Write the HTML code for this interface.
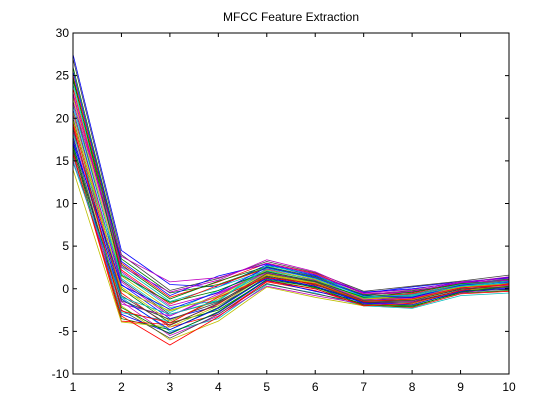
<!DOCTYPE html>
<html><head><meta charset="utf-8"><style>
body{margin:0;background:#fff;}
svg{display:block;font-family:"Liberation Sans",Arial,sans-serif;}
</style></head><body>
<svg id="chart" width="560" height="420" viewBox="0 0 560 420" xmlns="http://www.w3.org/2000/svg">
<rect width="560" height="420" fill="#fff"/>
<text x="291" y="21" text-anchor="middle" font-size="12">MFCC Feature Extraction</text>
<g id="lines"></g>
<rect x="73" y="33" width="436" height="341" fill="none" stroke="#000" stroke-width="1"/>
<g id="ticks"></g>
</svg>
<script>
const categories=[1,2,3,4,5,6,7,8,9,10];
const xTicks=[1,2,3,4,5,6,7,8,9,10];
const yTicks=[-10,-5,0,5,10,15,20,25,30];
const seriesColors=["#0000ff","#008000","#ff0000","#00bfbf","#bf00bf","#bfbf00","#404040"];
const seriesValues=[
[27.5,4.5,0.5,0.2,2.8,1.5,-0.5,0.2,0.8,1.3],
[26,3.5,-0.5,0.5,2.5,1.2,-0.8,-0.3,0.5,1.0],
[25,3,-1,0.8,3.0,1.8,-0.6,-0.5,0.6,0.8],
[24,2.5,-1.5,0.2,2.2,1.0,-1.0,-0.8,0.3,0.5],
[23,2,-2,-0.5,2.0,0.8,-1.2,-1.0,0.2,0.6],
[22.5,1.5,-2.5,-1.0,1.8,0.5,-1.4,-1.2,0.0,0.3],
[22,1,-3,-1.5,1.5,0.3,-1.5,-1.5,-0.2,0.2],
[21,0.5,-3.5,-2.0,1.2,0.2,-1.6,-1.8,-0.4,0.0],
[20,0,-4,-2.5,1.0,0.0,-1.8,-2.0,-0.5,-0.2],
[19.5,-0.5,-4.5,-3.0,0.8,-0.2,-1.9,-2.2,-0.6,-0.3],
[19,-1,-5,-3.5,0.5,-0.5,-2.0,-2.3,-0.8,-0.5],
[18.5,-1.5,-5.5,-3.2,0.3,-0.8,-1.8,-1.5,-0.5,0.2],
[18,-2,-6,-3.8,0.2,-1.0,-2.0,-1.8,-0.3,0.4],
[17.5,-2.5,-5.8,-3.0,0.6,-0.6,-1.7,-1.3,-0.1,0.5],
[17,-3,-5.2,-2.8,1.0,-0.3,-1.5,-1.0,0.1,0.7],
[16.5,-3.5,-4.8,-2.2,1.4,0.1,-1.3,-0.9,0.3,0.9],
[16,-3.8,-4.2,-1.8,1.7,0.4,-1.1,-0.7,0.4,1.1],
[15.5,-2.8,-3.8,-1.2,2.0,0.7,-0.9,-0.6,0.5,1.2],
[15,-1.8,-3.2,-0.8,2.3,1.0,-0.7,-0.4,0.7,1.4],
[14,-3.9,-4.5,-2.0,1.6,0.6,-1.2,-1.1,0.2,0.6],
[27,4,-0.2,1.2,3.2,1.9,-0.3,0.3,0.9,1.6],
[25.5,3.2,-0.8,1.5,2.9,1.6,-0.4,0.0,0.7,1.3],
[24.5,2.8,-1.2,0.9,2.6,1.4,-0.7,-0.2,0.6,1.1],
[23.5,2.2,-1.8,0.4,2.4,1.3,-0.9,-0.6,0.4,0.9],
[21.5,1.2,-2.8,-0.2,2.1,1.1,-1.1,-0.9,0.3,0.7],
[20.5,0.8,-3.2,-0.6,1.9,0.9,-1.3,-1.1,0.1,0.4],
[19.8,0.2,-3.8,-1.2,1.7,0.7,-1.4,-1.3,0.0,0.1],
[18.8,-0.8,-4.3,-1.7,1.5,0.5,-1.6,-1.6,-0.2,-0.1],
[17.8,-1.2,-4.8,-2.3,1.3,0.3,-1.7,-1.9,-0.3,0.1],
[16.8,-2.2,-5.3,-2.7,1.1,0.2,-1.9,-2.1,-0.4,0.3],
[15.8,-3.2,-6.6,-3.3,0.9,0.0,-2.0,-1.7,-0.2,0.6],
[18.2,1.8,-2.2,-1.4,2.7,1.7,-1.0,-0.7,0.5,1.0],
[22.8,2.6,-0.4,1.0,3.4,2.0,-0.5,-0.1,0.8,1.2],
[20.8,-0.2,-2.6,-0.9,2.2,1.1,-1.2,-0.8,0.2,0.5],
[16.2,-1.4,-3.6,-1.6,1.8,0.8,-1.4,-1.4,0.0,0.2],
[17.2,0.4,-2.4,-0.4,2.5,1.3,-0.8,-1.0,0.4,0.8],
[24.8,1.6,-1.6,-0.2,2.0,0.9,-1.0,-0.4,0.6,1.0],
[19.2,-2.6,-4.0,-1.0,1.3,0.6,-1.5,-1.2,0.1,0.5],
[14.8,-1.0,-3.0,-1.4,2.4,1.2,-0.9,-0.8,0.3,0.9],
[21.8,3.8,0.8,1.3,3.0,1.7,-0.6,-0.3,0.7,1.0]
];
const L=73,R=509,T=33,B=374;
const xs=v=>L+(v-1)*(R-L)/9;
const ys=v=>T+(30-v)*(B-T)/40;
const NS="http://www.w3.org/2000/svg";
const gl=document.getElementById('lines');
seriesValues.forEach((s,i)=>{
  const p=document.createElementNS(NS,'polyline');
  p.setAttribute('points',s.map((v,j)=>xs(categories[j]).toFixed(1)+','+ys(v).toFixed(1)).join(' '));
  p.setAttribute('fill','none');
  p.setAttribute('stroke',seriesColors[i%seriesColors.length]);
  p.setAttribute('stroke-width','0.8');
  
  
  gl.appendChild(p);
});
const gt=document.getElementById('ticks');
xTicks.forEach(v=>{
  const x=xs(v);
  const l1=document.createElementNS(NS,'path');
  l1.setAttribute('d',`M${x},${B}v-4M${x},${T}v4`);
  l1.setAttribute('stroke','#000');
  
  
  gt.appendChild(l1);
  const t=document.createElementNS(NS,'text');
  t.setAttribute('x',x);t.setAttribute('y',B+17);
  t.setAttribute('text-anchor','middle');t.setAttribute('font-size','12');
  t.textContent=v;
  
  
  gt.appendChild(t);
});
yTicks.forEach(v=>{
  const y=ys(v);
  const l1=document.createElementNS(NS,'path');
  l1.setAttribute('d',`M${L},${y}h4M${R},${y}h-4`);
  l1.setAttribute('stroke','#000');
  
  
  gt.appendChild(l1);
  const t=document.createElementNS(NS,'text');
  t.setAttribute('x',L-4);t.setAttribute('y',y+4);
  t.setAttribute('text-anchor','end');t.setAttribute('font-size','12');
  t.textContent=v;
  
  
  gt.appendChild(t);
});
</script>
</body></html>
